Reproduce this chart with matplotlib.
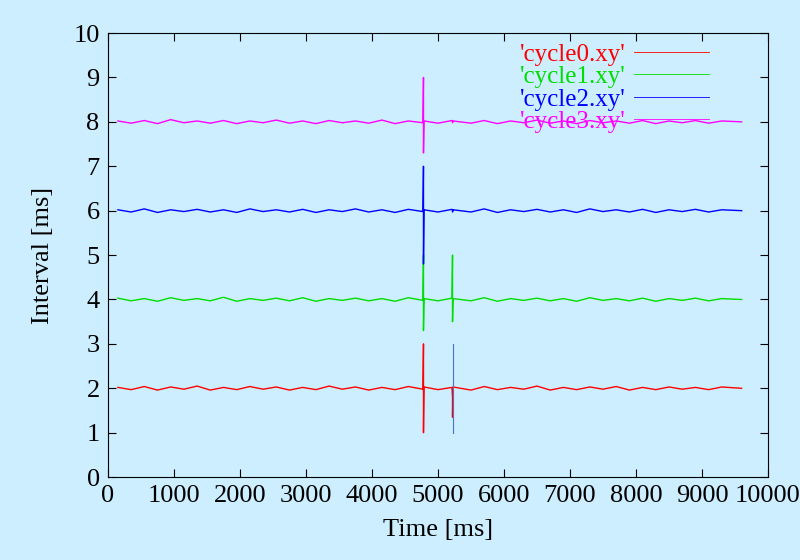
import numpy as np
import matplotlib.pyplot as plt

plt.rcParams['font.family'] = ['Liberation Serif', 'DejaVu Serif']

# sample times [ms] and small jitter
times = [150, 350, 550, 750, 950, 1150, 1350, 1550, 1750, 1950, 2150, 2350,
         2550, 2750, 2950, 3150, 3350, 3550, 3750, 3950, 4150, 4350, 4550, 4772,
         4780, 4780, 4788, 5000, 5212, 5220, 5220, 5228, 5500, 5700, 5900, 6100,
         6300, 6500, 6700, 6900, 7100, 7300, 7500, 7700, 7900, 8100, 8300, 8500,
         8700, 8900, 9100, 9300, 9600]

cycle0 = [2.02, 1.97, 2.04, 1.96, 2.03, 1.98, 2.05, 1.96, 2.02, 1.97, 2.04, 1.98,
          2.03, 1.96, 2.02, 1.97, 2.05, 1.98, 2.03, 1.96, 2.02, 1.97, 2.04, 1.98,
          3.0, 1.0, 2.03, 1.97, 2.02, 1.8, 1.35, 2.03, 1.96, 2.04, 1.97, 2.02,
          1.98, 2.05, 1.96, 2.02, 1.97, 2.03, 1.98, 2.04, 1.96, 2.02, 1.97, 2.03,
          1.98, 2.02, 1.97, 2.03, 2.0]
cycle1 = [4.03, 3.97, 4.02, 3.96, 4.04, 3.98, 4.02, 3.97, 4.05, 3.96, 4.02, 3.98,
          4.03, 3.97, 4.04, 3.96, 4.02, 3.98, 4.03, 3.97, 4.02, 3.96, 4.04, 3.98,
          5.0, 3.3, 4.02, 3.97, 4.03, 5.0, 3.5, 4.02, 3.97, 4.04, 3.96, 4.02,
          3.98, 4.03, 3.97, 4.02, 3.96, 4.04, 3.98, 4.02, 3.97, 4.03, 3.96, 4.02,
          3.98, 4.03, 3.97, 4.02, 4.0]
cycle2 = [6.02, 5.97, 6.04, 5.96, 6.02, 5.98, 6.03, 5.97, 6.02, 5.96, 6.04, 5.98,
          6.02, 5.97, 6.03, 5.96, 6.02, 5.98, 6.04, 5.97, 6.02, 5.96, 6.03, 5.98,
          7.0, 4.8, 6.02, 5.97, 6.03, 6.02, 5.97, 6.02, 5.97, 6.04, 5.96, 6.02,
          5.98, 6.03, 5.97, 6.02, 5.96, 6.04, 5.98, 6.02, 5.97, 6.03, 5.96, 6.02,
          5.98, 6.03, 5.97, 6.02, 6.0]
cycle3 = [8.02, 7.97, 8.03, 7.96, 8.05, 7.98, 8.02, 7.97, 8.03, 7.96, 8.02, 7.98,
          8.04, 7.97, 8.02, 7.96, 8.03, 7.98, 8.02, 7.97, 8.04, 7.96, 8.02, 7.98,
          9.0, 7.3, 8.02, 7.97, 8.03, 8.02, 7.98, 8.02, 7.97, 8.03, 7.96, 8.02,
          7.98, 8.04, 7.97, 8.02, 7.96, 8.03, 7.98, 8.02, 7.97, 8.03, 7.96, 8.02,
          7.98, 8.03, 7.97, 8.02, 8.0]

# thin trace at ~5220 ms in the lower band
extra_t = [5220, 5220]
extra_v = [3.0, 1.0]

series = [("'cycle0.xy'", cycle0, '#ff0000'),
          ("'cycle1.xy'", cycle1, '#00dd00'),
          ("'cycle2.xy'", cycle2, '#0000ff'),
          ("'cycle3.xy'", cycle3, '#ff00ff')]

bg = '#cceeff'
fig = plt.figure(figsize=(8, 5.6), dpi=100, facecolor=bg)
ax = fig.add_axes([0.135, 0.148, 0.825, 0.793], facecolor=bg)

for label, vals, col in series:
    ax.plot(times, vals, color=col, lw=1, label=label)
ax.plot(extra_t, extra_v, color='#5070c0', lw=0.8)

ax.set_xlim(0, 10000)
ax.set_ylim(0, 10)
ax.set_xticks(range(0, 10001, 1000))
ax.set_yticks(range(0, 11))
ax.tick_params(direction='in', top=True, right=True, labelsize=19, length=6, pad=6)
ax.set_xlabel('Time [ms]', fontsize=19, labelpad=8)
ax.set_ylabel('Interval [ms]', fontsize=19, labelpad=14)
for s in ax.spines.values():
    s.set_linewidth(0.8)

leg = ax.legend(loc='upper right', frameon=False, fontsize=18, markerfirst=False,
                handlelength=3.0, labelspacing=0.0, borderaxespad=0.0,
                handletextpad=0.3, bbox_to_anchor=(0.925, 1.0))
for txt, ln, (_, _, col) in zip(leg.get_texts(), leg.get_lines(), series):
    txt.set_color(col)
    ln.set_color(col)
    ln.set_linewidth(0.6)

fig.savefig('out.png', dpi=100, facecolor=bg)
